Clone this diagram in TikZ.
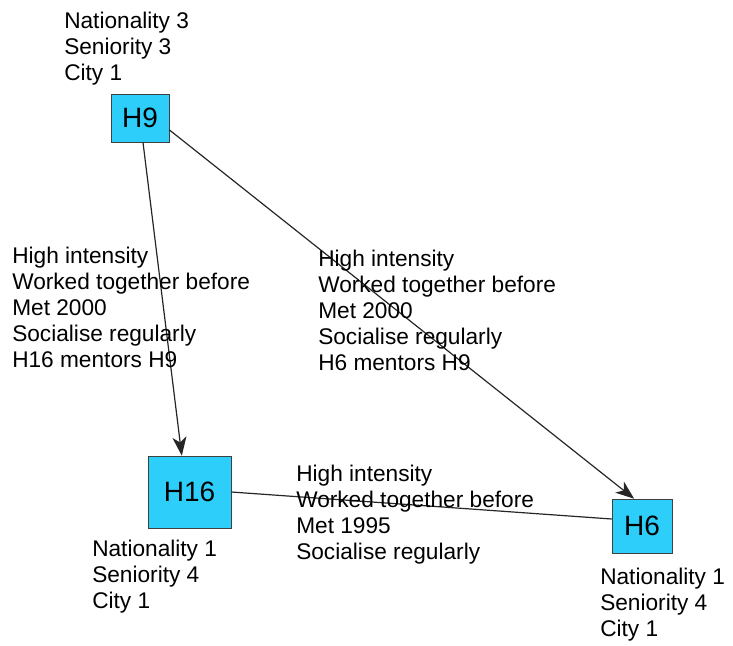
\documentclass[tikz,border=0pt]{standalone}
\usepackage{fontspec}
\setmainfont{Liberation Sans}
\usepackage{tikz}
\usetikzlibrary{arrows.meta,positioning}
\definecolor{hcyan}{RGB}{45,206,250}

\begin{document}
\begin{tikzpicture}[
    x=0.75pt, y=-0.75pt,
    hbox/.style={draw=black!75, fill=hcyan, inner sep=0pt, font=\fontsize{21}{24}\selectfont},
    attr/.style={anchor=north west, inner sep=0pt, align=left, font=\fontsize{17}{19.5}\selectfont},
    arr/.style={-{Stealth[length=14pt, width=10.5pt, inset=4pt]}, line width=0.9pt, black!85},
    tie/.style={line width=0.9pt, black!85}
  ]
    \useasboundingbox (0,0) rectangle (733,646);
    \node[hbox, minimum width=43.5pt, minimum height=36pt] (h9) at (140,118) {H9};
    \node[hbox, minimum width=62.25pt, minimum height=54pt] (h16) at (189.5,492) {H16};
    \node[hbox, minimum width=45pt, minimum height=40.5pt] (h6) at (642,526) {H6};
    % node attributes
    \node[attr] (a9) at (64,12) {Nationality 3\\Seniority 3\\City 1};
    \node[attr] (a16) at (92,540) {Nationality 1\\Seniority 4\\City 1};
    \node[attr] (a6) at (600,568) {Nationality 1\\Seniority 4\\City 1};
    % ties
    \draw[arr] (h9.-83) -- (h16.102);
    \draw[arr] (h9.-22) -- (h6.106);
    \draw[tie] (h16.east) -- (h6.167);
    % tie labels
    \node[attr] (l916) at (12,247) {High intensity\\Worked together before\\Met 2000\\Socialise regularly\\H16 mentors H9};
    \node[attr] (l96) at (318,250) {High intensity\\Worked together before\\Met 2000\\Socialise regularly\\H6 mentors H9};
    \node[attr] (l166) at (296,465) {High intensity\\Worked together before\\Met 1995\\Socialise regularly};
\end{tikzpicture}
\end{document}
